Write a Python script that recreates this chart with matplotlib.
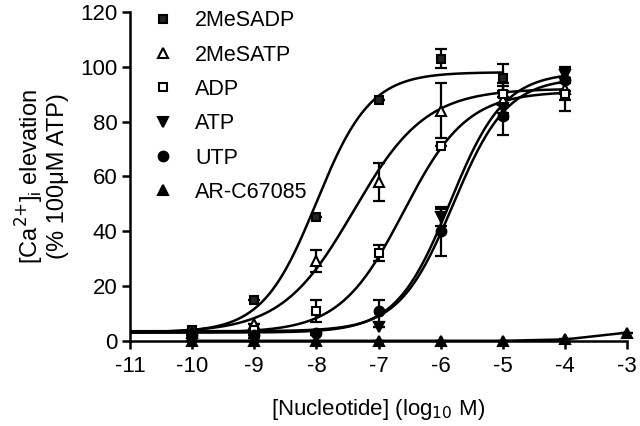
import numpy as np
import matplotlib
matplotlib.use("Agg")
import matplotlib.pyplot as plt
from matplotlib.lines import Line2D

plt.rcParams['font.family'] = ['Liberation Sans', 'DejaVu Sans']

# ---- data ----
sadp_x = [-10, -9, -8, -7, -6, -5]
sadp_y = [4, 15, 45, 88, 103, 96]
sadp_e = [0, 0, 0, 0, 3.5, 5]

satp_x = [-10, -9, -8, -7, -6, -5, -4]
satp_y = [3, 6, 29, 58, 84, 88, 92]
satp_e = [0, 0, 4, 7, 10, 5, 4]

adp_x = [-10, -9, -8, -7, -6, -5, -4]
adp_y = [2, 4, 11, 32, 71, 90, 90]
adp_e = [0, 0, 4, 3, 0, 4, 6]

atp_x = [-10, -9, -8, -7, -6, -5, -4]
atp_y = [1, 1, 2, 5, 45, 85, 97]
atp_e = [0, 0, 0, 0, 3, 4, 3]

utp_x = [-10, -9, -8, -7, -6, -5, -4]
utp_y = [2, 2, 3, 11, 40, 82, 95]
utp_e = [0, 0, 0, 4, 9, 7, 4]

arc_x = [-10, -9, -8, -7, -6, -5, -4, -3]
arc_y = [0, 0, 0, 0, 0, 0, 0.5, 3]

# fitted curve parameters: bottom, top, logEC50, hill, x-range
fit_sadp = (3, 98, -8.0, 1.0, -11, -5)
fit_satp = (3, 92, -7.4, 0.75, -11, -4)
fit_adp = (3, 91, -6.6, 0.85, -11, -4)
fit_atp = (3, 98, -5.85, 1.0, -11, -4)
fit_utp = (3.5, 96, -5.8, 1.0, -11, -4)

labels = ['2MeSADP', '2MeSATP', 'ADP', 'ATP', 'UTP', 'AR-C67085']
xticks = [-11, -10, -9, -8, -7, -6, -5, -4, -3]
yticks = [0, 20, 40, 60, 80, 100, 120]


def hill(p):
    b, t, ec, h, x0, x1 = p
    xx = np.linspace(x0, x1, 300)
    return xx, b + (t - b) / (1 + 10 ** ((ec - xx) * h))


fig = plt.figure(figsize=(6.4, 4.26), dpi=100)
ax = fig.add_axes([0.203, 0.2, 0.777, 0.772])

lw = 1.8
for p in [fit_sadp, fit_satp, fit_adp, fit_atp, fit_utp]:
    xx, yy = hill(p)
    ax.plot(xx, yy, color='black', lw=lw, zorder=2)
ax.plot(arc_x, arc_y, color='black', lw=lw, zorder=2, clip_on=False)

styles = [
    dict(marker='s', mfc='#222222', ms=6),
    dict(marker='^', mfc='white', ms=7),
    dict(marker='s', mfc='white', ms=6),
    dict(marker='v', mfc='black', ms=7.5),
    dict(marker='o', mfc='black', ms=7),
    dict(marker='^', mfc='black', ms=7.5),
]
series = [
    (sadp_x, sadp_y, sadp_e),
    (satp_x, satp_y, satp_e),
    (adp_x, adp_y, adp_e),
    (atp_x, atp_y, atp_e),
    (utp_x, utp_y, utp_e),
    (arc_x, arc_y, [0] * len(arc_x)),
]
for (xs, ys, es), st in zip(series, styles):
    ax.errorbar(xs, ys, yerr=es, fmt='none', ecolor='black', elinewidth=1.6,
                capsize=4, capthick=1.6, zorder=3, clip_on=False)
    ax.plot(xs, ys, linestyle='none', marker=st['marker'], mfc=st['mfc'],
            mec='black', mew=1.5, ms=st['ms'], zorder=4, clip_on=False)

handles = [Line2D([], [], linestyle='none', marker=st['marker'], mfc=st['mfc'],
                  mec='black', mew=1.5, ms=st['ms']) for st in styles]
leg = ax.legend(handles, labels, loc='upper left',
                frameon=False, fontsize=15.5, handlelength=1.0, handletextpad=1.0,
                labelspacing=0.62, borderaxespad=0.0, borderpad=0.0)
leg.set_bbox_to_anchor((0.045, 1.005), transform=ax.transAxes)

ax.set_xlim(-11, -3)
ax.set_ylim(0, 120)
ax.set_xticks(xticks)
ax.set_yticks(yticks)
ax.set_xticklabels([str(t) for t in xticks])
ax.tick_params(axis='both', labelsize=16, width=1.8, length=6, direction='out')
ax.tick_params(axis='x', pad=5)
ax.tick_params(axis='y', pad=3)
for s in ['top', 'right']:
    ax.spines[s].set_visible(False)
for s in ['left', 'bottom']:
    ax.spines[s].set_linewidth(1.8)

ax.set_xlabel('[Nucleotide] (log$_{10}$ M)', fontsize=16, labelpad=14)
ax.set_ylabel('[Ca$^{2{+}}$]$_\\mathregular{i}$ elevation\n(% 100\u03bcM ATP)', fontsize=17,
              labelpad=8, linespacing=1.05)

fig.savefig('out.png', dpi=100)
